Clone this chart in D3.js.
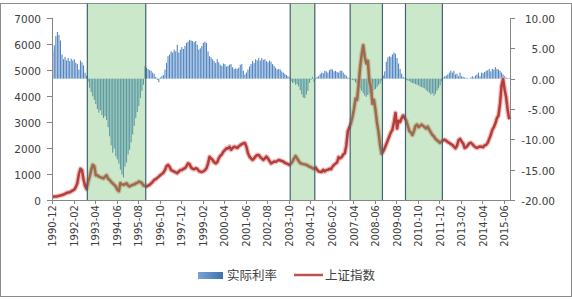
<!DOCTYPE html>
<html>
<head>
<meta charset="utf-8">
<script src="https://cdn.jsdelivr.net/npm/d3@7"></script>
<style>
  body { margin: 0; background: #fff; }
  svg text { font-family: "DejaVu Sans", Verdana, sans-serif; fill: #404040; }
  .legend text { font-family: "Noto Sans CJK SC", sans-serif; }
</style>
</head>
<body>
<svg id="chart" width="572" height="300"></svg>
<script>
// monthly categories 1990-12 .. 2015-09
const months = d3.timeMonth.range(new Date(1990, 11, 1), new Date(2015, 9, 1))
  .map(d3.timeFormat("%Y-%m"));

// 实际利率 (right axis, %)
const realRate = [
  4.5, 5.5, 7.0, 7.7, 7.2, 6.3, 4.0, 3.2, 3.6, 3.0, 3.4, 2.9, 3.3, 3.0, 3.2, 2.6, 2.4, 1.5, 3.0, 2.7, 2.2, 1.0,
  0.5, -0.5, -1.5, -2.2, -2.9, -3.5, -4.2, -5.0, -5.6, -5.2, -6.0, -6.5, -6.2, -6.8, -8.0, -9.5, -11.0, -12.2,
  -11.5, -12.8, -13.3, -14.0, -15.0, -15.8, -16.3, -14.5, -13.8, -12.5, -11.7, -10.5, -9.2, -7.8, -6.5, -5.5,
  -4.5, -3.2, -2.0, -1.0,
  2.1, 1.8, 1.6, 1.4, 1.3, 1.0, 0.8, 0.3, -0.2, -0.6,
  0.2, 0.4, 0.6, 1.5, 2.6, 3.7, 4.0, 4.5, 4.3, 4.8,
  4.5, 5.6, 4.3, 4.8, 5.2, 4.9, 5.4, 5.9, 6.1, 6.4,
  6.3, 6.2, 6.0, 6.2, 5.6, 4.8, 5.0, 5.4, 5.9, 6.1,
  5.9, 4.5, 3.7, 3.5, 3.2, 2.9, 2.6, 3.2, 2.7, 2.3,
  2.1, 2.5, 2.4, 2.0, 2.1, 2.3, 2.4, 1.9, 1.6, 1.7,
  1.6, 1.8, 2.3, 2.4,
  1.3, 0.7, 1.0, 1.5, 2.0, 2.4, 2.9, 2.6, 3.2, 3.0,
  3.4, 3.0, 3.4, 3.1, 3.2, 2.9, 2.7, 3.0, 2.8, 2.4,
  2.1, 1.8, 1.5, 1.6, 1.5, 1.2, 1.0, 0.8, 0.6, 0.4, 0.2,
  -0.4, -0.7, -0.6, -1.0, -0.9, -1.3, -1.9, -2.6, -3.1, -3.2, -2.6, -2.0, -0.7, -0.2, 0.3, -0.5,
  0.1, 0.3, 0.4, 0.8, 1.0, 0.9, 1.3, 1.2, 1.0, 1.4, 1.6, 1.5, 1.2, 1.3, 1.1, 1.0, 1.3, 1.3, 1.0, 0.7, 0.5, 0.2, 0.1,
  -0.1, -0.2, -0.3, -0.6, -0.8, -1.2, -1.6, -2.0, -2.4, -2.8, -3.0, -2.7, -2.4, -2.2, -2.6, -1.9, -1.7, -1.4, -1.0, -0.8, -0.3,
  0.5, 1.2, 2.8, 3.5, 3.7, 3.6, 4.0, 4.3, 4.1, 3.4, 2.5, 1.6, 0.8, 0.3, 0.1,
  -0.2, -0.3, -0.4, -0.6, -0.7, -0.8, -0.9, -1.0, -1.1, -1.3, -1.4, -1.5, -1.6, -1.9, -2.1, -2.3, -2.6, -2.4,
  -2.8, -2.5, -2.0, -1.6, -1.1, -0.4,
  0.2, 0.4, 0.5, 0.7, 1.0, 1.3, 1.0, 1.3, 0.7, 0.8,
  0.4, 1.0, 0.4, 0.3, 0.2, 0.1, 0.1, 0.0, 0.2, 0.4,
  0.2, 0.5, 0.7, 1.0, 0.4, 1.0, 0.9, 1.1, 1.3, 1.4,
  1.6, 1.2, 1.6, 1.5, 1.9, 1.6, 1.5, 1.3, 1.0, 0.7,
  0.4, 0.2, 0.1, 0.1
];

// 上证指数 (left axis)
const shIndex = [
  127, 130, 135, 145, 160, 175, 190, 210, 240, 270,
  290, 300, 330, 370, 400, 500, 650, 1000, 1200, 1150,
  800, 550, 420, 700, 900, 1150, 1350, 1300, 950, 950,
  900, 880, 850, 830, 900, 950, 820, 770, 700, 640,
  580, 520, 400, 340, 650, 600, 580, 610, 640, 560,
  520, 560, 580, 600, 640, 660, 710, 690, 650, 560,
  540, 520, 555, 580, 640, 700, 770, 800, 850, 900,
  960, 1000, 1050, 1150, 1300, 1350, 1280, 1150, 1120, 1090,
  1060, 1030, 1100, 1150, 1150, 1200, 1220, 1300, 1410, 1380,
  1250, 1200, 1180, 1220, 1200, 1120, 1090, 1080, 1100, 1150,
  1220, 1400, 1660, 1600, 1540, 1450, 1410, 1450, 1600, 1700,
  1750, 1860, 1920, 1990, 1980, 2050, 1930, 2000, 2050, 2030,
  2000, 2060, 2110, 2150, 2180, 2190, 2050, 1800, 1670, 1600,
  1540, 1600, 1680, 1730, 1730, 1650, 1600, 1540, 1600, 1670,
  1600, 1500, 1410, 1440, 1480, 1470, 1500, 1540, 1520, 1500,
  1480, 1430, 1410, 1380, 1350, 1400, 1480, 1600, 1690, 1600,
  1500, 1420, 1400, 1380, 1370, 1350, 1320, 1280, 1260, 1220,
  1200, 1250, 1160, 1100, 1090, 1080, 1160, 1100, 1150, 1160,
  1200, 1180, 1280, 1350, 1400, 1450, 1650, 1600, 1650, 1750,
  1800, 2100, 2650, 2800, 2950, 3200, 3500, 3900, 3850, 4450,
  5100, 5600, 5950, 5500, 5250, 5350, 4550, 4350, 3700, 3850,
  3450, 2950, 2600, 2100, 1780, 1870, 2000, 2150, 2300, 2450,
  2600, 2700, 3000, 3350, 2750, 3050, 3000, 3150, 3250, 3150,
  3050, 2850, 2650, 2600, 2500, 2650, 2850, 2900, 2800, 2850,
  2900, 2850, 2800, 2750, 2820, 2700, 2600, 2500, 2450, 2350,
  2300, 2250, 2200, 2250, 2300, 2320, 2280, 2230, 2200, 2150,
  2120, 2050, 1990, 2080, 2300, 2350, 2250, 2180, 2000, 2030,
  2100, 2180, 2200, 2150, 2080, 2030, 2000, 2030, 2060, 2050,
  2030, 2100, 2120, 2200, 2350, 2500, 2700, 2800, 2950, 3150,
  3250, 3700, 4400, 4650, 4250, 3950, 3450, 3100
];

// shaded periods (first and last month)
const periods = [
  ["1992-11", "1995-12"],
  ["2003-11", "2005-02"],
  ["2007-02", "2008-10"],
  ["2010-02", "2012-01"]
];

const leftTicks = [0, 1000, 2000, 3000, 4000, 5000, 6000, 7000];
const rightTicks = [10, 5, 0, -5, -10, -15, -20];
const seriesNames = ["实际利率", "上证指数"];

const svg = d3.select("#chart");
const m = { left: 52, right: 510, top: 18, bottom: 200 };

const x = d3.scaleBand().domain(months).range([m.left, m.right]).padding(0);
const yL = d3.scaleLinear().domain([0, 7000]).range([m.bottom, m.top]);
const yR = d3.scaleLinear().domain([-20, 10]).range([m.bottom, m.top]);
const bw = x.bandwidth();

// excel-like bar shading
const defs = svg.append("defs");
const grad = defs.append("linearGradient").attr("id", "barGrad")
  .attr("x1", 0).attr("x2", 1).attr("y1", 0).attr("y2", 0);
grad.append("stop").attr("offset", "0%").attr("stop-color", "#7aa3d6");
grad.append("stop").attr("offset", "100%").attr("stop-color", "#3f72ad");

// outer frame
svg.append("rect")
  .attr("x", 0.5).attr("y", 3.5).attr("width", 571).attr("height", 293)
  .attr("fill", "none").attr("stroke", "#8c8c8c");

// bars
svg.append("g").selectAll("rect")
  .data(realRate)
  .join("rect")
  .attr("x", (d, i) => x(months[i]) + bw * 0.15)
  .attr("width", bw * 0.7)
  .attr("y", (d) => yR(Math.max(0, d)))
  .attr("height", (d) => Math.abs(yR(d) - yR(0)))
  .attr("fill", "#5185c1");

// index line
const line = d3.line()
  .x((d, i) => x(months[i]) + bw / 2)
  .y((d) => yL(d));
svg.append("path").datum(shIndex)
  .attr("d", line).attr("fill", "none")
  .attr("stroke", "#eaa2a2").attr("stroke-width", 5).attr("stroke-opacity", 0.7)
  .attr("stroke-linejoin", "round");
svg.append("path").datum(shIndex)
  .attr("d", line).attr("fill", "none")
  .attr("stroke", "#b53d39").attr("stroke-width", 2.5)
  .attr("stroke-linejoin", "round");

// shaded periods on top
const pg = svg.append("g");
periods.forEach(([a, b]) => {
  const x0 = x(a), x1 = x(b) + bw;
  pg.append("rect")
    .attr("x", x0).attr("y", 3.5).attr("width", x1 - x0).attr("height", m.bottom - 3.5)
    .attr("fill", "rgb(110,190,110)").attr("fill-opacity", 0.36);
  [x0, x1].forEach((xx) => {
    pg.append("line")
      .attr("x1", xx).attr("x2", xx).attr("y1", 3.5).attr("y2", m.bottom)
      .attr("stroke", "#3f6470").attr("stroke-width", 1.2);
  });
});

// axes
const axisColor = "#868686";
svg.append("line").attr("x1", m.left + 0.5).attr("x2", m.left + 0.5)
  .attr("y1", m.top).attr("y2", m.bottom).attr("stroke", axisColor);
svg.append("line").attr("x1", m.right + 0.5).attr("x2", m.right + 0.5)
  .attr("y1", m.top).attr("y2", m.bottom).attr("stroke", axisColor);
svg.append("line").attr("x1", m.left).attr("x2", m.right)
  .attr("y1", m.bottom + 0.5).attr("y2", m.bottom + 0.5).attr("stroke", axisColor);

leftTicks.forEach((t) => {
  const y = Math.round(yL(t)) + 0.5;
  svg.append("line").attr("x1", m.left - 5).attr("x2", m.left)
    .attr("y1", y).attr("y2", y).attr("stroke", axisColor);
  svg.append("text").attr("x", 41).attr("y", y + 4)
    .attr("text-anchor", "end").attr("font-size", 10.5).text(t);
});

rightTicks.forEach((t) => {
  const y = Math.round(yR(t)) + 0.5;
  svg.append("line").attr("x1", m.right).attr("x2", m.right + 5)
    .attr("y1", y).attr("y2", y).attr("stroke", axisColor);
  svg.append("text").attr("x", 555).attr("y", y + 4)
    .attr("text-anchor", "end").attr("font-size", 10.5).text(t.toFixed(2));
});

months.forEach((mo, i) => {
  if (i % 14 !== 0) return;
  const tx = Math.round(x(mo)) + 0.5;
  svg.append("line").attr("x1", tx).attr("x2", tx)
    .attr("y1", m.bottom).attr("y2", m.bottom + 4).attr("stroke", axisColor);
  const cx = x(mo) + bw / 2 + 3.5;
  svg.append("text")
    .attr("transform", `translate(${cx},205) rotate(-90)`)
    .attr("text-anchor", "end").attr("font-size", 10).text(mo);
});

// legend
const lg = svg.append("g").attr("class", "legend");
lg.append("rect").attr("x", 198).attr("y", 272).attr("width", 25).attr("height", 7)
  .attr("fill", "url(#barGrad)");
lg.append("text").attr("x", 227).attr("y", 280).attr("font-size", 12.5).text(seriesNames[0]);
lg.append("line").attr("x1", 294).attr("x2", 323).attr("y1", 275).attr("y2", 275)
  .attr("stroke", "#c0504d").attr("stroke-width", 2.5);
lg.append("text").attr("x", 325).attr("y", 280).attr("font-size", 12.5).text(seriesNames[1]);
</script>
</body>
</html>
